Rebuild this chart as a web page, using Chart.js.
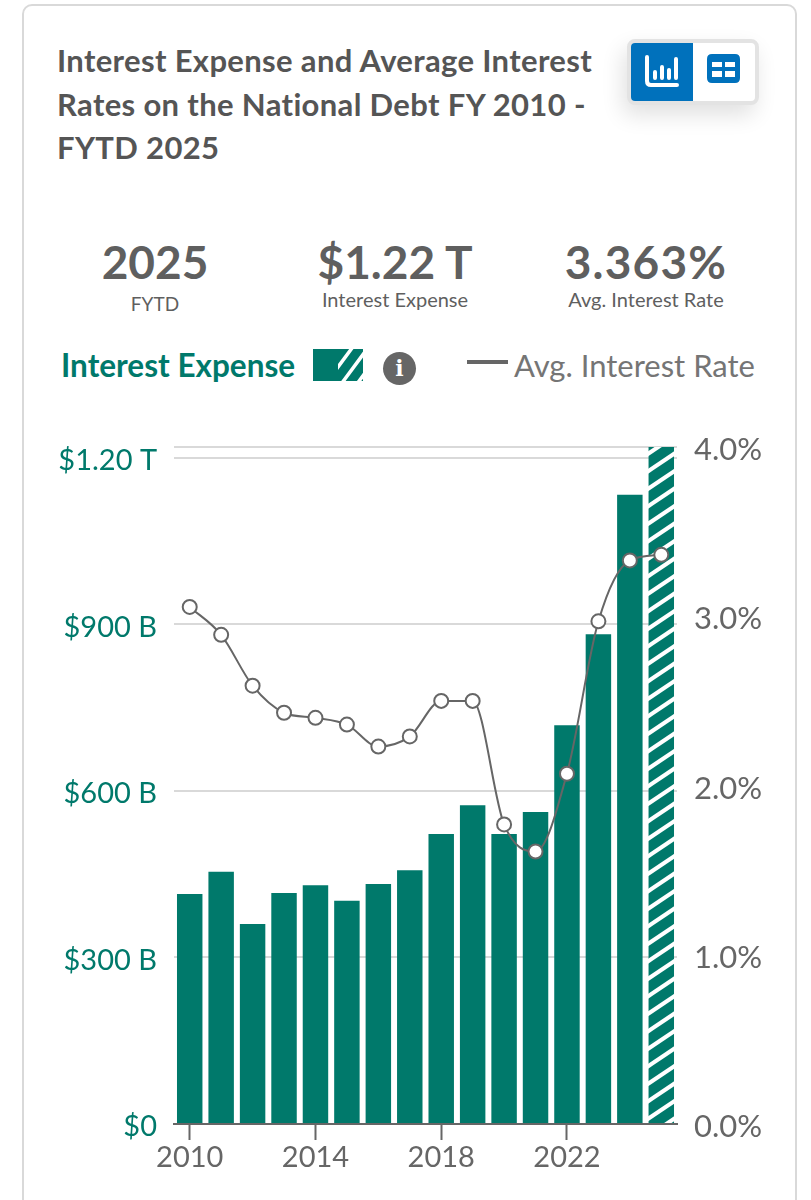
<!DOCTYPE html>
<html lang="en">
<head>
    <meta charset="UTF-8">
    <title>Interest Expense and Average Interest Rates on the National Debt</title>
    <style>
        html, body { margin: 0; padding: 0; background: #fff; }
        body { width: 811px; height: 1200px; position: relative; overflow: hidden; font-family: Lato, "Noto Sans", sans-serif; color: #555; }
        .card { position: absolute; left: 22px; top: 4px; width: 771px; height: 1300px; border: 2px solid #d9d9d9; border-radius: 10px; box-sizing: content-box; }
        .title { position: absolute; left: 57px; top: 39px; width: 570px; font-size: 31px; line-height: 43.5px; font-weight: 700; letter-spacing: 0.35px; color: #555; }
        .toggle { position: absolute; left: 627px; top: 39px; width: 132px; height: 66px; border: 4px solid #e3e3e3; border-radius: 8px; box-sizing: border-box; background: #fff; box-shadow: -4px 10px 22px rgba(0,0,0,.12); }
        .toggle .on { position: absolute; left: 0; top: 0; width: 62px; height: 58px; background: #0071bc; border-radius: 4px 0 0 4px; }
        .toggle svg { position: absolute; }
        .stat { position: absolute; text-align: center; }
        .stat b { display: block; font-size: 46px; line-height: 50px; font-weight: 700; color: #5f5f5f; }
        .stat span { display: block; font-size: 20px; line-height: 24px; color: #5f5f5f; }
        .legend-left { position: absolute; left: 61px; top: 347px; font-size: 31.5px; line-height: 36px; font-weight: 700; color: #00796b; }
        .swatch { position: absolute; left: 313px; top: 349px; }
        .info { position: absolute; left: 383px; top: 352px; width: 33px; height: 33px; border-radius: 50%; background: #666; color: #fff; font: 700 22px/33px "DejaVu Serif", serif; text-align: center; }
        .legend-line { position: absolute; left: 467px; top: 360px; width: 41px; height: 4px; background: #666; }
        .legend-right { position: absolute; left: 514px; top: 347px; font-size: 31px; line-height: 36px; color: #757575; }
        #chart { position: absolute; left: 0; top: 400px; }
    </style>
</head>
<body>
    <div class="card"></div>
    <div class="title">Interest Expense and Average Interest Rates on the National Debt FY 2010 - FYTD 2025</div>
    <div class="toggle">
        <div class="on"></div>
        <svg style="left:13px;top:12px" width="36" height="32" viewBox="0 0 36 32" fill="none" stroke="#fff" stroke-width="4" stroke-linecap="round">
            <path d="M3 2V26Q3 30 7 30H33"/><path d="M11 17V23M18 12V23M25 15V23M32 4V23"/>
        </svg>
        <svg style="left:76px;top:11px" width="33" height="29" viewBox="0 0 33 29">
            <path fill="#0071bc" fill-rule="evenodd" d="M5 0H28Q33 0 33 5V24Q33 29 28 29H5Q0 29 0 24V5Q0 0 5 0ZM5 8V13H15V8ZM18 8V13H28V8ZM5 17V23H15V17ZM18 17V23H28V17Z"/>
        </svg>
    </div>

    <div class="stat" style="left:75px;top:237px;width:160px"><b>2025</b><span style="margin-top:5px;font-size:19px">FYTD</span></div>
    <div class="stat" style="left:295px;top:237px;width:200px"><b>$1.22 T</b><span>Interest Expense</span></div>
    <div class="stat" style="left:546px;top:237px;width:200px"><b style="letter-spacing:1.2px">3.363%</b><span>Avg. Interest Rate</span></div>

    <div class="legend-left">Interest Expense</div>
    <svg class="swatch" width="50" height="32" viewBox="0 0 50 32">
        <rect width="50" height="32" fill="#00796b"/>
        <svg x="25" y="0" width="25" height="32" viewBox="25 0 25 32">
            <path d="M22 22L42 -5M26 38L54 0M41 39L60 13" stroke="#fff" stroke-width="3.5" fill="none"/>
        </svg>
    </svg>
    <div class="info">i</div>
    <div class="legend-line"></div>
    <div class="legend-right">Avg. Interest Rate</div>

    <canvas id="chart" width="811" height="800"></canvas>

    <script src="https://cdn.jsdelivr.net/npm/chart.js"></script>
    <script>
    const years = ['2010','2011','2012','2013','2014','2015','2016','2017','2018','2019','2020','2021','2022','2023','2024','2025'];
    // interest expense, billions of dollars
    const expense = [414, 454, 360, 416, 430, 402, 432, 457, 522, 574, 522, 562, 718, 882, 1133, 1219];
    // average interest rate, percent
    const avgRate = [3.055, 2.89, 2.59, 2.43, 2.40, 2.36, 2.23, 2.29, 2.50, 2.50, 1.77, 1.61, 2.07, 2.97, 3.33, 3.363];
    const expenseTicks = [0, 300, 600, 900, 1200];
    const rateTicks = [0, 1, 2, 3, 4];
    const yearLabels = ['2010', '2014', '2018', '2022'];

    const TEAL = '#00796b';
    const GREY = '#666666';
    const GRID = '#d9d9d9';
    const FONT = 'Lato, "Noto Sans", sans-serif';

    // white diagonal stripes for the year still in progress
    function stripes() {
        const tile = document.createElement('canvas');
        const w = 26, h = 17.5;
        tile.width = w;
        tile.height = h * 2;
        const c = tile.getContext('2d');
        c.fillStyle = TEAL;
        c.fillRect(0, 0, w, h * 2);
        c.strokeStyle = '#fff';
        c.lineWidth = 4;
        for (let i = -2; i < 6; i++) {
            c.beginPath();
            c.moveTo(-w, h * i + h);
            c.lineTo(2 * w, h * i - 2 * h);
            c.stroke();
        }
        return document.createElement('canvas').getContext('2d').createPattern(tile, 'repeat');
    }
    const pattern = stripes();

    new Chart(document.getElementById('chart'), {
        data: {
            labels: years,
            datasets: [
                {
                    type: 'line',
                    data: avgRate,
                    yAxisID: 'y2',
                    order: 1,
                    borderColor: GREY,
                    borderWidth: 2,
                    cubicInterpolationMode: 'monotone',
                    pointRadius: 7,
                    pointBackgroundColor: '#fff',
                    pointBorderColor: GREY,
                    pointBorderWidth: 2
                },
                {
                    type: 'bar',
                    data: expense,
                    yAxisID: 'y',
                    order: 2,
                    categoryPercentage: 1,
                    barPercentage: 0.81,
                    backgroundColor: years.map(y => y === '2025' ? pattern : TEAL)
                }
            ]
        },
        options: {
            responsive: false,
            animation: false,
            devicePixelRatio: 1,
            layout: { padding: { top: 47, left: 0, right: 0, bottom: 0 } },
            plugins: { legend: { display: false }, tooltip: { enabled: false } },
            scales: {
                x: {
                    afterFit: s => { s.height = 76; },
                    border: { color: GREY, width: 2 },
                    grid: {
                        offset: false,
                        drawOnChartArea: false,
                        tickLength: 16,
                        tickWidth: 2,
                        tickColor: ctx => yearLabels.includes(years[ctx.index]) ? GREY : 'rgba(0,0,0,0)'
                    },
                    ticks: {
                        autoSkip: false,
                        maxRotation: 0,
                        padding: 0,
                        color: GREY,
                        font: { family: FONT, size: 29 },
                        callback: (v, i) => yearLabels.includes(years[i]) ? years[i] : ''
                    }
                },
                y: {
                    position: 'left',
                    min: 0,
                    max: 1219,
                    afterFit: s => { s.width = 174; },
                    afterBuildTicks: s => { s.ticks = expenseTicks.map(v => ({ value: v })); },
                    border: { display: false },
                    grid: { color: GRID, lineWidth: 2, drawTicks: false },
                    ticks: {
                        padding: 17,
                        labelOffset: 3,
                        color: TEAL,
                        font: { family: FONT, size: 29 },
                        callback: v => v === 0 ? '$0' : v >= 1000 ? '$' + (v / 1000).toFixed(2) + ' T' : '$' + v + ' B'
                    }
                },
                y2: {
                    position: 'right',
                    min: 0,
                    max: 4,
                    afterFit: s => { s.width = 134; },
                    afterBuildTicks: s => { s.ticks = rateTicks.map(v => ({ value: v })); },
                    border: { display: false },
                    grid: {
                        lineWidth: 2,
                        drawTicks: false,
                        color: ctx => ctx.tick && ctx.tick.value === 4 ? GRID : 'rgba(0,0,0,0)'
                    },
                    ticks: {
                        padding: 17,
                        labelOffset: 3,
                        color: GREY,
                        font: { family: FONT, size: 31 },
                        callback: v => v.toFixed(1) + '%'
                    }
                }
            }
        }
    });
    </script>
</body>
</html>
